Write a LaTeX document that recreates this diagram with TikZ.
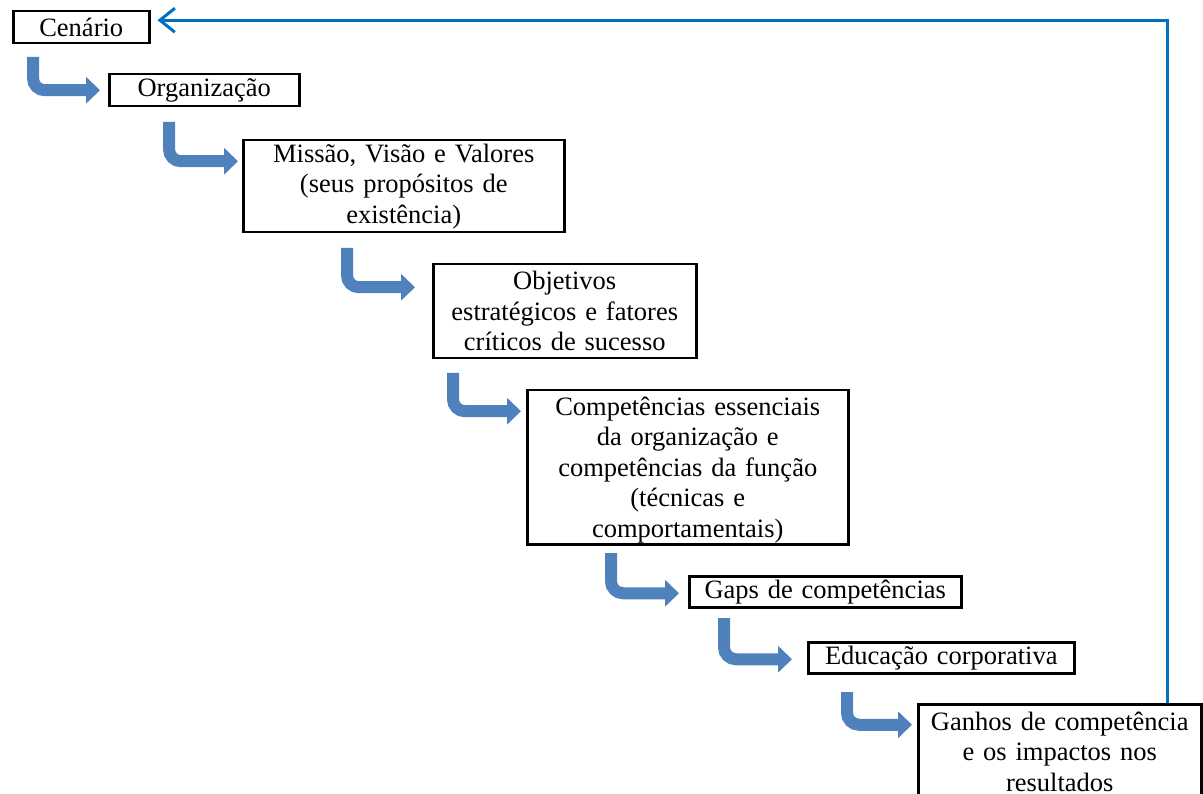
\documentclass[tikz,border=0pt]{standalone}
\usepackage{fontspec}
\setmainfont{Liberation Serif}
\usetikzlibrary{arrows.meta}
\definecolor{bentblue}{HTML}{4F81BD}
\definecolor{fbblue}{HTML}{0070C0}
\newcommand{\boxfont}{\fontsize{26.5}{30.5}\selectfont}
\tikzset{
  box/.style={draw=black, line width=2.5pt, anchor=north west, align=center,
    inner sep=0pt, font=\boxfont, fill=white},
  bent/.style={draw=bentblue, line width=12pt, rounded corners=12pt,
    -{Triangle[length=14pt,width=26pt]}},
  feedback/.style={draw=fbblue, line width=3pt,
    -{Straight Barb[length=15pt,width=24pt,line width=3pt]}}
}
\begin{document}
\begin{tikzpicture}[x=1pt,y=-1pt]
\useasboundingbox (0,0) rectangle (1203,794);

% boxes
\node[box, text width=136pt, minimum height=32pt] (cen) at (12,10) {Cenário};
\node[box, text width=190pt, minimum height=32pt] (org) at (108,73) {Organização};
\node[box, text width=321pt, minimum height=92pt] (mvv) at (242,139)
  {Missão, Visão e Valores\\(seus propósitos de\\existência)};
\node[box, text width=263pt, minimum height=94pt] (obj) at (432,263)
  {Objetivos\\estratégicos e fatores\\críticos de sucesso};
\node[box, text width=321pt, minimum height=154pt] (comp) at (526,389)
  {\rule{0pt}{24pt}Competências essenciais\\da organização e\\competências da função\\(técnicas e\\comportamentais)};
\node[box, text width=272pt, minimum height=31pt] (gaps) at (688,575) {Gaps de competências};
\node[box, text width=266pt, minimum height=31pt] (edu) at (807,641) {Educação corporativa};
\node[box, text width=283pt, minimum height=95pt] (gan) at (917,703)
  {Ganhos de competência\\e os impactos nos\\resultados};

% start points of the bent arrows
\coordinate (s1) at (33,57);
\coordinate (s2) at (169,122);
\coordinate (s3) at (347,248);
\coordinate (s4) at (453,373);
\coordinate (s5) at (611,553);
\coordinate (s6) at (724,618);
\coordinate (s7) at (847,692);

% bent arrows
\draw[bent] (s1) |- ([xshift=-8pt]org.west);
\draw[bent] (s2) |- ([xshift=-4pt,yshift=25pt]mvv.west);
\draw[bent] (s3) |- ([xshift=-17pt,yshift=24pt]obj.west);
\draw[bent] (s4) |- ([xshift=-5pt,yshift=56pt]comp.west);
\draw[bent] (s5) |- ([xshift=-9pt,yshift=-1.5pt]gaps.west);
\draw[bent] (s6) |- ([xshift=-15pt,yshift=-1.5pt]edu.west);
\draw[bent] (s7) |- ([xshift=-5pt,yshift=27pt]gan.west);

% feedback arrow
\draw[feedback] ([xshift=-35pt]gan.north east) |- ([xshift=7pt,yshift=7pt]cen.east);
\end{tikzpicture}
\end{document}
